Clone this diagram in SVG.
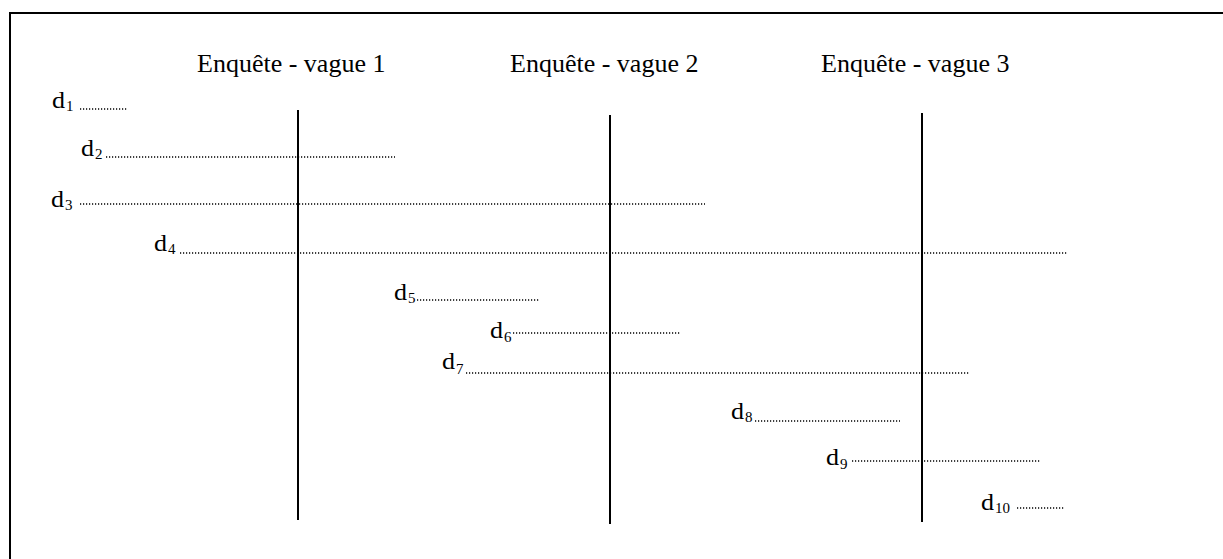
<svg xmlns="http://www.w3.org/2000/svg" width="1223" height="559" viewBox="0 0 1223 559" font-family="'Liberation Serif', 'Times New Roman', serif">
<style>
text{font-family:'Liberation Serif','Times New Roman',serif;fill:#000}
.h{font-size:26px}
.d{font-size:23px}
.s{font-size:15px}
.v{stroke:#000;stroke-width:2}
.dot{stroke:#000;stroke-width:1.5;stroke-dasharray:1.2 1.8;fill:none}
</style>
<rect x="10" y="13" width="1220" height="560" fill="#fff" stroke="#000" stroke-width="2"/>
<g id="headers">
<text class="h" x="197" y="72">Enquête - vague 1</text>
<text class="h" x="510" y="72">Enquête - vague 2</text>
<text class="h" x="821" y="72">Enquête - vague 3</text>
</g>
<g id="waves">
<line id="wave1" class="v" x1="298" y1="110" x2="298" y2="520"/>
<line id="wave2" class="v" x1="610" y1="115" x2="610" y2="524"/>
<line id="wave3" class="v" x1="922" y1="113" x2="922" y2="522"/>
</g>
<g id="durations">
<g id="d1"><text class="d" x="52" y="108" textLength="13" lengthAdjust="spacingAndGlyphs">d</text><text class="s" x="66" y="111">1</text><line class="dot" x1="80" y1="109" x2="128" y2="109"/></g>
<g id="d2"><text class="d" x="81" y="156" textLength="13" lengthAdjust="spacingAndGlyphs">d</text><text class="s" x="95" y="159">2</text><line class="dot" x1="106" y1="157" x2="395" y2="157"/></g>
<g id="d3"><text class="d" x="51" y="207" textLength="13" lengthAdjust="spacingAndGlyphs">d</text><text class="s" x="65" y="210">3</text><line class="dot" x1="80" y1="204" x2="705" y2="204"/></g>
<g id="d4"><text class="d" x="154" y="251" textLength="13" lengthAdjust="spacingAndGlyphs">d</text><text class="s" x="168" y="254">4</text><line class="dot" x1="180" y1="253" x2="1068" y2="253"/></g>
<g id="d5"><text class="d" x="394" y="300" textLength="13" lengthAdjust="spacingAndGlyphs">d</text><text class="s" x="408" y="303">5</text><line class="dot" x1="417" y1="300" x2="539" y2="300"/></g>
<g id="d6"><text class="d" x="490" y="338" textLength="13" lengthAdjust="spacingAndGlyphs">d</text><text class="s" x="504" y="342">6</text><line class="dot" x1="513" y1="333" x2="680" y2="333"/></g>
<g id="d7"><text class="d" x="442" y="369" textLength="13" lengthAdjust="spacingAndGlyphs">d</text><text class="s" x="456" y="374">7</text><line class="dot" x1="466" y1="373" x2="970" y2="373"/></g>
<g id="d8"><text class="d" x="731" y="419" textLength="13" lengthAdjust="spacingAndGlyphs">d</text><text class="s" x="745" y="422">8</text><line class="dot" x1="755" y1="421" x2="900" y2="421"/></g>
<g id="d9"><text class="d" x="826" y="465" textLength="13" lengthAdjust="spacingAndGlyphs">d</text><text class="s" x="840" y="469">9</text><line class="dot" x1="852" y1="461" x2="1041" y2="461"/></g>
<g id="d10"><text class="d" x="981" y="510" textLength="13" lengthAdjust="spacingAndGlyphs">d</text><text class="s" x="995" y="513">10</text><line class="dot" x1="1017" y1="508" x2="1065" y2="508"/></g>
</g>
</svg>
